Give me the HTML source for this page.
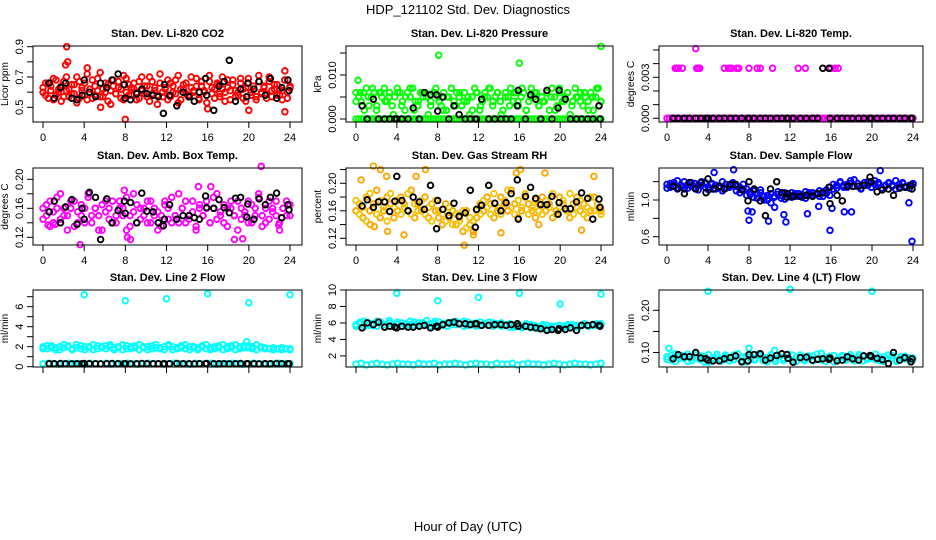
<!DOCTYPE html>
<html><head><meta charset="utf-8"><style>
body{margin:0;background:#fff}
svg{display:block;font-family:"Liberation Sans",Arial,sans-serif}
</style></head><body>
<svg id="chart" width="936" height="540" viewBox="0 0 936 540">
<text x="468" y="14" text-anchor="middle" font-size="13">HDP_121102  Std. Dev. Diagnostics</text>
<text x="468" y="531" text-anchor="middle" font-size="13">Hour of Day (UTC)</text>
</svg>
<script>
const blackHours=[0.6,1.1,1.7,2.2,2.8,3.3,3.8,4.0,4.5,5.1,5.6,6.2,6.7,7.3,7.9,8.0,8.5,9.1,9.6,10.1,10.7,11.2,11.7,11.8,12.3,13.0,13.6,14.2,14.7,15.2,15.8,15.9,16.6,17.1,17.6,18.1,18.7,19.2,19.8,19.9,20.5,21.0,21.6,22.1,22.7,23.2,23.8,23.9];
const xTicks=[0,4,8,12,16,20,24];
// CO2
const co2A=[0.63,0.58,0.66,0.61,0.55,0.68,0.60,0.64,0.57,0.70,0.62,0.59,0.65,0.53,0.67,0.61,0.58,0.72,0.60,0.56,0.64,0.69,0.57,0.62,0.66,0.54,0.61,0.68,0.59,0.63,0.56,0.71,0.60,0.65,0.58,0.62,0.55,0.67,0.61,0.64,0.57,0.70,0.59,0.63,0.52,0.66,0.60,0.62,0.68,0.57,0.64,0.59,0.71,0.55,0.62,0.66,0.58,0.63,0.60,0.69,0.56,0.64,0.61,0.53,0.67,0.59,0.62,0.65,0.57,0.70,0.60,0.63,0.55,0.68,0.61,0.58,0.66,0.62,0.54,0.69,0.60,0.64,0.57,0.71,0.59,0.63,0.56,0.67,0.61,0.65,0.58,0.62,0.55,0.68,0.60,0.63];
const co2B=[0.60,0.66,0.56,0.64,0.69,0.58,0.62,0.54,0.67,0.61,0.57,0.65,0.59,0.70,0.56,0.63,0.66,0.55,0.62,0.68,0.58,0.61,0.73,0.57,0.60,0.65,0.52,0.64,0.59,0.67,0.62,0.55,0.69,0.58,0.63,0.66,0.60,0.56,0.70,0.59,0.64,0.54,0.67,0.61,0.58,0.72,0.57,0.63,0.55,0.66,0.60,0.68,0.53,0.62,0.65,0.59,0.57,0.70,0.61,0.64,0.55,0.67,0.60,0.58,0.71,0.63,0.56,0.66,0.59,0.62,0.54,0.68,0.61,0.65,0.57,0.60,0.69,0.56,0.63,0.66,0.58,0.62,0.55,0.67,0.60,0.64,0.59,0.70,0.57,0.62,0.65,0.58,0.61,0.68,0.56,0.64];
const co2OutHours=[2.3,2.2,2.4,4.3,8.0,23.5,23.5,16.0,20.0,5.6];
const co2OutValues=[0.90,0.78,0.80,0.76,0.42,0.74,0.47,0.49,0.48,0.50];
const co2Black=[0.66,0.56,0.63,0.66,0.56,0.55,0.58,0.68,0.60,0.57,0.66,0.63,0.68,0.72,0.65,0.56,0.55,0.59,0.62,0.59,0.58,0.57,0.46,0.65,0.58,0.51,0.60,0.57,0.54,0.60,0.69,0.58,0.48,0.64,0.67,0.81,0.54,0.62,0.57,0.66,0.62,0.67,0.58,0.69,0.56,0.63,0.68,0.61];
// Pressure
const presA=[0.006,0.005,0.004,0.006,0.007,0.003,0.005,0.006,0.002,0.006,0.005,0.007,0.004,0.006,0.003,0.005,0.007,0.006,0.004,0.002,0.006,0.005,0.007,0.004,0.003,0.006,0.005,0.006,0.001,0.004,0.006,0.007,0.005,0.003,0.006,0.002,0.005,0.007,0.004,0.006,0.005,0.003,0.006,0.004,0.001,0.005,0.007,0.006,0.002,0.004,0.006,0.005,0.007,0.003,0.005,0.006,0.004,0.002,0.006,0.005,0.007,0.004,0.006,0.003,0.005,0.006,0.002,0.004,0.007,0.005,0.006,0.003,0.005,0.004,0.006,0.002,0.007,0.005,0.003,0.006,0.004,0.005,0.006,0.001,0.004,0.007,0.005,0.006,0.003,0.005,0.004,0.006,0.002,0.005,0.007,0.004];
const presB=[0.004,0.006,0.002,0.005,0.007,0.003,0.006,0.004,0.005,0.001,0.006,0.003,0.005,0.007,0.002,0.004,0.006,0.005,0.003,0.006,0.004,0.002,0.005,0.007,0.003,0.006,0.004,0.005,0.002,0.006,0.003,0.005,0.007,0.004,0.006,0.001,0.005,0.003,0.006,0.004,0.007,0.002,0.005,0.006,0.003,0.004,0.006,0.005,0.002,0.007,0.004,0.006,0.003,0.005,0.004,0.006,0.002,0.005,0.007,0.004];
const presZero=[0,0,0,0,0,0,0,0,0,0,0,0,0,0,0,0,0,0,0,0,0,0,0,0,0,0,0,0,0,0,0,0,0,0,0,0,0,0,0,0,0,0,0,0,0,0,0,0,0,0,0,0,0,0,0,0,0,0,0,0,0,0,0,0,0,0,0,0,0,0,0,0,0,0,0,0,0,0,0,0,0,0,0,0,0,0,0,0,0,0,0,0,0,0,0,0];
const presOutHours=[8.1,16.0,24.0,0.2];
const presOutValues=[0.0145,0.0127,0.0165,0.0088];
const presBlack=[0.003,0,0.0045,0,0,0,0,0,0,0,0.0025,0,0.006,0.0055,0.0055,0.0018,0.005,0,0.003,0.001,0,0,0,0,0.0045,0,0,0,0,0,0.003,0.0065,0,0.0055,0.0045,0,0.0065,0,0.0025,0.0065,0.0045,0,0,0,0,0,0.003,0];
// Li-820 temp
const tempHighHours=[0.8,0.9,1.0,1.1,1.5,2.9,3.0,3.2,5.6,6.0,6.2,6.3,6.8,7.0,8.0,8.8,9.1,10.3,12.8,13.5,16.0,16.4,16.7,2.8];
const tempHighValues=[0.00366,0.00366,0.00366,0.00366,0.00366,0.00366,0.00366,0.00366,0.00366,0.00366,0.00366,0.00366,0.00366,0.00366,0.00366,0.00366,0.00366,0.00366,0.00366,0.00366,0.00366,0.00366,0.00366,0.0051];
const tempBlack=[0,0,0,0,0,0,0,0,0,0,0,0,0,0,0,0,0,0,0,0,0,0,0,0,0,0,0,0,0,0.00366,0.00366,0,0,0,0,0,0,0,0,0,0,0,0,0,0,0,0,0];
// Amb box temp
const ambA=[0.16,0.15,0.17,0.14,0.16,0.18,0.15,0.13,0.16,0.17,0.14,0.15,0.16,0.18,0.14,0.16,0.15,0.13,0.17,0.16,0.14,0.15,0.17,0.16,0.13,0.15,0.18,0.14,0.16,0.15,0.17,0.14,0.16,0.13,0.15,0.17,0.16,0.14,0.15,0.18,0.16,0.14,0.15,0.17,0.13,0.16,0.15,0.17,0.14,0.16,0.18,0.15,0.14,0.16,0.17,0.15,0.13,0.16,0.15,0.17,0.14,0.16,0.18,0.15,0.14,0.17,0.16,0.15,0.13,0.16,0.17,0.15];
const ambB=[0.145,0.165,0.135,0.155,0.175,0.145,0.16,0.15,0.17,0.135,0.155,0.165,0.14,0.175,0.15,0.16,0.13,0.165,0.155,0.145,0.17,0.14,0.16,0.15,0.175,0.135,0.155,0.165,0.145,0.16,0.14,0.17,0.15,0.155,0.135,0.165,0.145,0.175,0.15,0.14,0.16,0.17,0.145,0.155,0.135,0.165,0.15,0.16,0.14,0.175,0.145,0.155,0.165,0.135,0.16,0.15,0.17,0.145,0.155,0.14,0.165,0.15,0.175,0.135,0.16,0.145,0.155,0.17,0.14,0.16,0.15,0.165];
const ambOutHours=[0.5,1.2,3.6,7.9,8.2,8.5,15.1,16.3,18.6,19.4,21.2,22.9];
const ambOutValues=[0.137,0.138,0.110,0.185,0.120,0.117,0.190,0.190,0.117,0.118,0.218,0.137];
const ambBlack=[0.155,0.17,0.14,0.162,0.172,0.138,0.16,0.145,0.182,0.175,0.117,0.173,0.14,0.157,0.17,0.153,0.168,0.14,0.181,0.156,0.155,0.14,0.136,0.145,0.165,0.145,0.15,0.15,0.147,0.145,0.177,0.161,0.16,0.172,0.161,0.154,0.174,0.175,0.148,0.166,0.145,0.173,0.165,0.175,0.181,0.147,0.165,0.158];
// RH
const rhA=[0.16,0.17,0.15,0.18,0.16,0.17,0.19,0.15,0.16,0.18,0.17,0.15,0.16,0.18,0.17,0.16,0.19,0.15,0.17,0.16,0.18,0.15,0.17,0.16,0.15,0.14,0.17,0.15,0.16,0.14,0.15,0.13,0.16,0.14,0.13,0.15,0.17,0.16,0.18,0.17,0.15,0.16,0.18,0.17,0.16,0.19,0.17,0.15,0.16,0.18,0.17,0.16,0.15,0.17,0.18,0.16,0.17,0.15,0.16,0.18,0.17,0.16,0.15,0.17,0.18,0.16,0.17,0.15,0.16,0.18,0.17,0.16];
const rhB=[0.175,0.155,0.165,0.145,0.185,0.165,0.155,0.175,0.165,0.145,0.185,0.165,0.175,0.155,0.165,0.185,0.155,0.17,0.16,0.175,0.155,0.165,0.145,0.175,0.16,0.155,0.145,0.165,0.14,0.155,0.145,0.16,0.135,0.15,0.145,0.16,0.155,0.175,0.165,0.155,0.185,0.165,0.155,0.175,0.19,0.165,0.155,0.175,0.165,0.185,0.155,0.165,0.175,0.16,0.155,0.175,0.165,0.185,0.155,0.165,0.175,0.16,0.185,0.155,0.165,0.175,0.155,0.165,0.18,0.16,0.17,0.155];
const rhOutHours=[0.5,1.4,1.8,1.7,2.4,3.0,3.1,4.7,5.9,6.8,10.6,11.5,14.2,15.7,16.1,18.5,17.9,22.1,23.3];
const rhOutValues=[0.205,0.14,0.137,0.225,0.22,0.21,0.13,0.125,0.21,0.22,0.11,0.125,0.128,0.215,0.22,0.215,0.14,0.132,0.21];
const rhBlack=[0.167,0.176,0.165,0.173,0.173,0.159,0.174,0.21,0.175,0.16,0.18,0.173,0.162,0.197,0.134,0.175,0.162,0.153,0.171,0.152,0.157,0.19,0.136,0.162,0.168,0.197,0.171,0.16,0.172,0.185,0.205,0.148,0.181,0.194,0.178,0.169,0.169,0.181,0.155,0.172,0.163,0.163,0.173,0.186,0.178,0.148,0.177,0.165];
// Sample flow
const flowA=[1.17,1.14,1.19,1.12,1.16,1.20,1.13,1.15,1.18,1.11,1.16,1.19,1.14,1.17,1.12,1.15,1.20,1.13,1.16,1.18,1.10,1.14,1.17,1.12,1.06,1.10,1.02,1.08,1.04,1.00,1.07,1.03,1.09,1.05,1.01,1.06,1.08,1.04,1.07,1.03,1.09,1.05,1.08,1.06,1.04,1.09,1.07,1.05,1.12,1.16,1.19,1.14,1.17,1.21,1.15,1.18,1.13,1.16,1.20,1.14,1.17,1.19,1.13,1.16,1.18,1.15,1.12,1.17,1.19,1.14,1.16,1.18];
const flowB=[1.13,1.18,1.15,1.21,1.14,1.12,1.17,1.19,1.13,1.16,1.20,1.14,1.11,1.18,1.16,1.13,1.10,1.17,1.14,1.19,1.15,1.08,1.12,1.05,1.09,1.03,1.07,1.11,1.00,1.05,0.97,1.04,1.06,1.02,1.08,1.05,1.03,1.07,1.04,1.06,1.02,1.08,1.05,1.07,1.10,1.04,1.11,1.14,1.17,1.13,1.20,1.16,1.14,1.18,1.22,1.15,1.12,1.19,1.16,1.14,1.21,1.17,1.13,1.15,1.19,1.16,1.21,1.14,1.18,1.15,1.13,1.17];
const flowOutHours=[7.9,8.0,8.3,9.9,10.5,11.4,11.6,13.7,14.8,15.9,16.1,17.3,18.0,23.6,23.9,6.5,20.8,4.6];
const flowOutValues=[0.88,0.78,0.87,0.77,0.92,0.84,0.76,0.85,0.93,0.67,0.91,0.87,0.87,0.97,0.55,1.33,1.32,1.30];
const flowBlack=[1.15,1.13,1.07,1.19,1.12,1.19,1.08,1.23,1.12,1.15,1.12,1.17,1.17,1.11,0.99,1.2,1.12,0.99,0.83,1.12,1.2,1.08,1.03,1.07,1.04,1.04,1.05,1.04,1.07,1.08,1.14,0.96,1.05,0.99,1.15,1.15,1.15,1.16,1.25,1.2,1.09,1.11,1.12,1.05,1.13,1.14,1.16,1.12];
// Line 2
const l2A=[2.0,1.8,2.1,1.9,1.7,2.2,2.0,1.8,1.9,2.1,1.7,2.0,2.2,1.8,1.9,2.1,2.0,1.7,1.9,2.2,1.8,2.0,2.1,1.7,1.9,2.0,1.8,2.2,1.9,1.7,2.1,2.0,1.8,1.9,2.2,1.7,2.0,1.9,2.1,1.8,1.7,2.0,1.9,2.2,1.8,2.1,1.7,2.0,1.9,2.1,1.8,2.2,1.9,1.8,1.8,1.9,1.8,1.7,1.8,1.8];
const l2B=[1.8,2.1,1.9,1.7,2.0,1.9,2.1,1.7,2.2,1.8,2.0,1.9,1.7,2.1,2.0,1.8,2.2,1.9,2.0,1.7,2.1,1.8,1.9,2.2,2.0,1.7,2.1,1.9,1.8,2.0,2.2,1.7,1.9,2.1,1.8,2.0,1.9,1.7,2.0,2.2,1.9,1.8,2.1,1.7,2.0,1.9,2.2,1.8,2.1,1.9,2.0,1.7,2.0,1.9,1.8,1.7,1.8,1.9,1.8,1.7];
const l2Low=[0.3,0.35,0.3,0.25,0.3,0.35,0.3,0.3,0.25,0.35,0.3,0.3,0.35,0.25,0.3,0.3,0.35,0.3,0.25,0.3,0.35,0.3,0.3,0.25,0.3,0.35,0.3,0.3,0.25,0.35,0.3,0.3,0.35,0.25,0.3,0.3,0.35,0.3,0.25,0.3,0.35,0.3,0.3,0.25,0.3,0.35,0.3,0.3];
const l2OutHours=[4,8,12,16,20,24,19.8];
const l2OutValues=[7.2,6.6,6.8,7.3,6.4,7.2,2.5];
const l2Black=[0.3,0.3,0.32,0.3,0.28,0.3,0.3,0.32,0.3,0.3,0.28,0.3,0.32,0.3,0.3,0.3,0.28,0.3,0.32,0.3,0.3,0.3,0.28,0.3,0.3,0.32,0.3,0.3,0.28,0.3,0.3,0.32,0.3,0.3,0.3,0.28,0.3,0.32,0.3,0.3,0.3,0.28,0.3,0.3,0.32,0.3,0.3,0.3];
// Line 3
const l3A=[5.8,6.1,5.6,6.0,5.7,6.2,5.9,5.5,6.0,5.8,6.1,5.6,5.9,6.2,5.7,6.0,5.8,6.3,5.6,5.9,6.1,5.7,6.0,5.8,6.2,5.9,5.6,6.1,5.8,6.0,5.7,5.9,6.1,5.6,5.8,6.0,5.7,5.9,5.5,5.8,5.6,5.9,5.4,5.7,5.5,5.8,5.3,5.6,5.5,5.7,5.4,5.6,5.8,5.5,5.7,5.9,5.6,5.8,5.7,5.9];
const l3B=[5.6,5.9,6.2,5.7,5.9,5.6,6.1,5.8,6.3,5.7,5.9,6.0,5.6,5.8,6.1,5.7,6.0,5.8,5.9,6.2,5.7,5.9,5.6,6.1,5.8,6.0,6.2,5.7,5.9,5.6,6.1,5.8,5.7,6.0,5.9,5.6,5.8,5.5,5.7,5.9,5.4,5.6,5.8,5.5,5.3,5.6,5.7,5.4,5.6,5.3,5.6,5.8,5.5,5.7,5.6,5.8,5.6,5.7,5.9,5.8];
const l3Low=[1.0,1.1,0.9,1.0,1.1,1.0,0.9,1.0,1.1,1.0,1.0,0.9,1.1,1.0,1.0,1.1,0.9,1.0,1.0,1.1,1.0,0.9,1.0,1.1,1.0,1.0,0.9,1.1,1.0,1.0,1.1,0.9,1.0,1.1,1.0,1.0,0.9,1.0,1.1,1.0,0.9,1.0,1.1,1.0,1.0,0.9,1.0,1.1];
const l3OutHours=[4,8,12,16,20,24];
const l3OutValues=[9.6,8.7,9.1,9.6,8.3,9.5];
const l3Black=[5.4,6.0,5.8,6.1,5.5,5.6,5.5,5.4,5.6,5.5,5.5,5.6,5.7,5.4,5.6,5.5,5.8,6.0,6.1,5.9,5.9,5.8,5.9,5.9,5.7,5.7,5.8,5.8,5.7,5.8,5.9,5.6,5.6,5.5,5.4,5.3,5.1,5.2,5.1,5.3,5.2,5.4,5.1,5.7,5.7,5.8,5.7,5.6];
// Line 4
const l4A=[0.090,0.082,0.097,0.086,0.093,0.079,0.088,0.095,0.083,0.091,0.077,0.087,0.096,0.084,0.090,0.080,0.094,0.086,0.089,0.078,0.092,0.085,0.097,0.081,0.088,0.093,0.079,0.090,0.086,0.096,0.082,0.089,0.094,0.080,0.087,0.091,0.084,0.098,0.079,0.088,0.093,0.083,0.090,0.086,0.095,0.080,0.089,0.092,0.084,0.087,0.096,0.081,0.090,0.085,0.093,0.079,0.088,0.091,0.084,0.087];
const l4B=[0.084,0.093,0.079,0.090,0.086,0.096,0.081,0.088,0.092,0.078,0.095,0.085,0.089,0.080,0.094,0.087,0.083,0.097,0.079,0.091,0.086,0.082,0.093,0.088,0.078,0.095,0.085,0.090,0.081,0.087,0.094,0.079,0.089,0.085,0.092,0.080,0.096,0.083,0.088,0.091,0.078,0.086,0.093,0.082,0.089,0.084,0.095,0.080,0.087,0.092,0.083,0.089,0.079,0.094,0.086,0.082,0.090,0.085,0.088,0.083];
const l4OutHours=[0.2,4,12,20,8,10.5];
const l4OutValues=[0.11,0.245,0.25,0.245,0.11,0.105];
const l4Black=[0.085,0.095,0.09,0.09,0.1,0.087,0.085,0.082,0.08,0.08,0.085,0.088,0.092,0.078,0.08,0.095,0.095,0.097,0.082,0.087,0.093,0.097,0.095,0.086,0.077,0.088,0.089,0.082,0.084,0.085,0.084,0.087,0.08,0.082,0.09,0.085,0.082,0.092,0.093,0.091,0.086,0.083,0.074,0.1,0.082,0.088,0.078,0.085];

const NS='http://www.w3.org/2000/svg';
const svg=document.getElementById('chart');
function mk(tag,attrs,parent){const e=document.createElementNS(NS,tag);for(const k in attrs)e.setAttribute(k,attrs[k]);(parent||svg).appendChild(e);return e;}
const cols=[{l:33,r:302,x0:43,x24:290},{l:346,r:613,x0:356,x24:601},{l:659,r:923,x0:667,x24:913}];
const rows=[{t:46,b:122},{t:168,b:245},{t:290,b:367}];

function panel(o){
  const c=cols[o.col],r=rows[o.row];
  const g=mk('g',{});
  
  
  const xs=h=>c.x0+(c.x24-c.x0)*h/24;
  const ys=v=>o.y1px+(v-o.v1)*(o.y2px-o.y1px)/(o.v2-o.v1);
  const t=mk('text',{x:(c.l+c.r)/2,y:r.t-9,'text-anchor':'middle','font-size':11,'font-weight':'bold'},g);
  t.textContent=o.title;
  
  
  const pts=mk('g',{},g);
  
  
  function series(hours,vals,color){
    for(let i=0;i<vals.length;i++){
      const h=hours?hours[i]:24*i/(vals.length-1);
      const y=ys(vals[i]);
      if(y<r.t-4||y>r.b+4)continue;
      const p=mk('circle',{cx:xs(h).toFixed(1),cy:y.toFixed(1),r:2.8,fill:'none',stroke:color,'stroke-width':1.9},pts);
      
      
    }
  }
  o.series.forEach(s=>series(s[0],s[1],s[2]));
  const box=mk('rect',{x:c.l,y:r.t,width:c.r-c.l,height:r.b-r.t,fill:'none',stroke:'#000','stroke-width':1},g);
  
  
  xTicks.forEach(h=>{
    mk('line',{x1:xs(h),x2:xs(h),y1:r.b,y2:r.b+6,stroke:'#000'},g);
    if(o.row<2){const tl=mk('text',{x:xs(h),y:r.b+19,'text-anchor':'middle','font-size':11},g);tl.textContent=h;
      
      }
  });
  o.yt.forEach(v=>{const y=ys(v);mk('line',{x1:c.l-6,x2:c.l,y1:y,y2:y,stroke:'#000'},g);});
  o.yl.forEach((lab,i)=>{const y=ys(o.ylv[i]);const tl=mk('text',{x:c.l-10,y:y,'text-anchor':'middle','font-size':11,transform:`rotate(-90 ${c.l-10} ${y})`},g);tl.textContent=lab;
    
    });
  const yx=c.l-25,ym=(r.t+r.b)/2;
  const yl=mk('text',{x:yx,y:ym,'text-anchor':'middle','font-size':10,transform:`rotate(-90 ${yx} ${ym})`},g);
  yl.textContent=o.ylab;
  
  
}
panel({name:'panel-co2',col:0,row:0,title:'Stan. Dev. Li-820 CO2',ylab:'Licor ppm',v1:0.5,y1px:107.3,v2:0.9,y2px:46.7,
  yt:[0.5,0.6,0.7,0.8,0.9],yl:['0.5','0.7','0.9'],ylv:[0.5,0.7,0.9],
  series:[[null,co2A,'#f00'],[null,co2B,'#f00'],[co2OutHours,co2OutValues,'#f00'],[blackHours,co2Black,'#000']]});
panel({name:'panel-pressure',col:1,row:0,title:'Stan. Dev. Li-820 Pressure',ylab:'kPa',v1:0,y1px:119,v2:0.01,y2px:75,
  yt:[0,0.005,0.01,0.015],yl:['0.000','0.010'],ylv:[0,0.01],
  series:[[null,presZero,'#0f0'],[null,presA,'#0f0'],[null,presB,'#0f0'],[presOutHours,presOutValues,'#0f0'],[blackHours,presBlack,'#000']]});
panel({name:'panel-li820-temp',col:2,row:0,title:'Stan. Dev. Li-820 Temp.',ylab:'degrees C',v1:0,y1px:118.3,v2:0.003,y2px:77.3,
  yt:[0,0.001,0.002,0.003,0.004,0.005],yl:['0.000','0.003'],ylv:[0,0.003],
  series:[[null,presZero,'#f0f'],[tempHighHours,tempHighValues,'#f0f'],[blackHours,tempBlack,'#000']]});
panel({name:'panel-amb-box-temp',col:0,row:1,title:'Stan. Dev. Amb. Box Temp.',ylab:'degrees C',v1:0.12,y1px:237.3,v2:0.20,y2px:179.3,
  yt:[0.12,0.14,0.16,0.18,0.20],yl:['0.12','0.16','0.20'],ylv:[0.12,0.16,0.20],
  series:[[null,ambA,'#f0f'],[null,ambB,'#f0f'],[ambOutHours,ambOutValues,'#f0f'],[blackHours,ambBlack,'#000']]});
panel({name:'panel-gas-rh',col:1,row:1,title:'Stan. Dev. Gas Stream RH',ylab:'percent',v1:0.12,y1px:238.3,v2:0.20,y2px:183.3,
  yt:[0.12,0.14,0.16,0.18,0.20,0.22],yl:['0.12','0.16','0.20'],ylv:[0.12,0.16,0.20],
  series:[[null,rhA,'#ffa500'],[null,rhB,'#f5c400'],[rhOutHours,rhOutValues,'#ffa500'],[blackHours,rhBlack,'#000']]});
panel({name:'panel-sample-flow',col:2,row:1,title:'Stan. Dev. Sample Flow',ylab:'ml/min',v1:0.6,y1px:236.7,v2:1.0,y2px:200,
  yt:[0.6,0.8,1.0,1.2],yl:['0.6','1.0'],ylv:[0.6,1.0],
  series:[[null,flowA,'#00f'],[null,flowB,'#00f'],[flowOutHours,flowOutValues,'#00f'],[blackHours,flowBlack,'#000']]});
panel({name:'panel-line2-flow',col:0,row:2,title:'Stan. Dev. Line 2 Flow',ylab:'ml/min',v1:0,y1px:366.7,v2:6,y2px:306.7,
  yt:[0,1,2,3,4,5,6,7],yl:['0','2','4','6'],ylv:[0,2,4,6],
  series:[[null,l2A,'#0ff'],[null,l2B,'#0ff'],[null,l2Low,'#0ff'],[l2OutHours,l2OutValues,'#0ff'],[blackHours,l2Black,'#000']]});
panel({name:'panel-line3-flow',col:1,row:2,title:'Stan. Dev. Line 3 Flow',ylab:'ml/min',v1:2,y1px:355.9,v2:10,y2px:290,
  yt:[2,4,6,8,10],yl:['2','4','6','8','10'],ylv:[2,4,6,8,10],
  series:[[null,l3A,'#0ff'],[null,l3B,'#0ff'],[null,l3Low,'#0ff'],[l3OutHours,l3OutValues,'#0ff'],[blackHours,l3Black,'#000']]});
panel({name:'panel-line4-flow',col:2,row:2,title:'Stan. Dev. Line 4 (LT) Flow',ylab:'ml/min',v1:0.10,y1px:352.5,v2:0.20,y2px:310.3,
  yt:[0.10,0.15,0.20],yl:['0.10','0.20'],ylv:[0.10,0.20],
  series:[[null,l4A,'#0ff'],[null,l4B,'#0ff'],[l4OutHours,l4OutValues,'#0ff'],[blackHours,l4Black,'#000']]});
</script>
</body></html>
